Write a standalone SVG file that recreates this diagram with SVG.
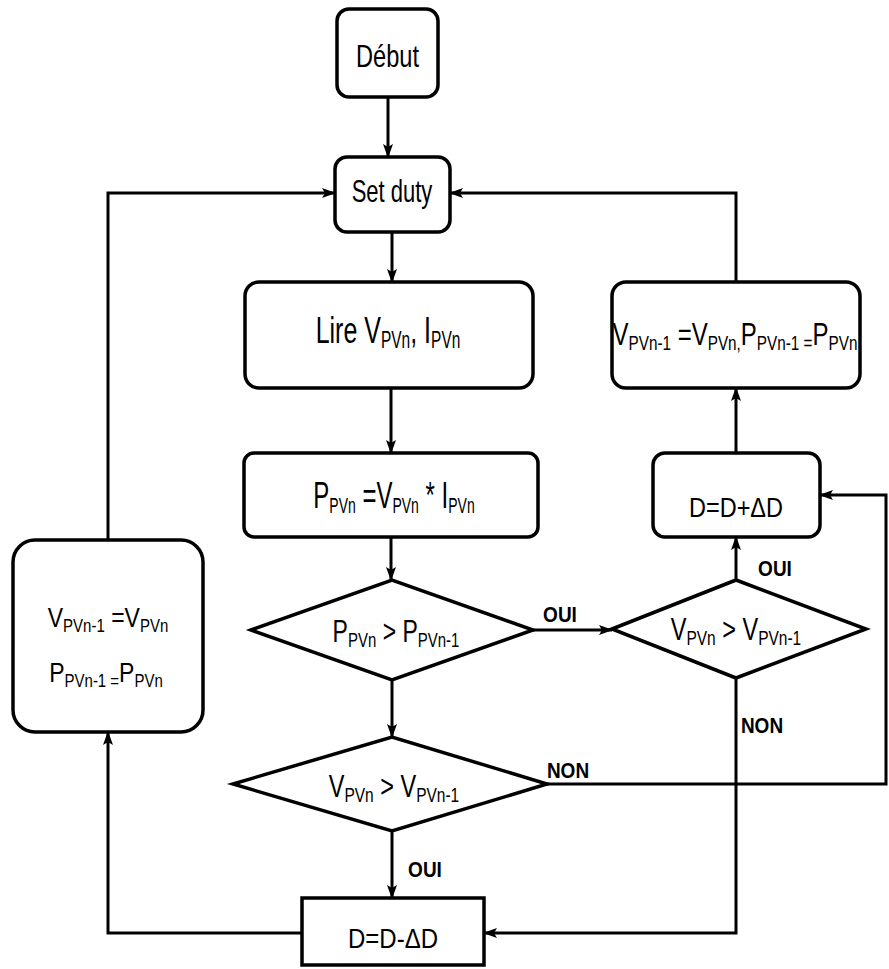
<svg xmlns="http://www.w3.org/2000/svg" width="889" height="969" viewBox="0 0 889 969">
<defs>
<style>
.box{fill:#fff;stroke:#000;stroke-width:3.5}
.ln{fill:none;stroke:#000;stroke-width:3}
.t{font-family:"Liberation Sans",Arial,sans-serif;fill:#000;text-anchor:middle}
.lbl{font-family:"Liberation Sans",Arial,sans-serif;font-weight:bold;font-size:19px;fill:#000;text-anchor:middle}
</style>
<marker id="ah" markerWidth="14" markerHeight="12" refX="13" refY="6" orient="auto" markerUnits="userSpaceOnUse">
<path d="M0,1 L14,6 L0,11 L3,6 Z" fill="#000"/>
</marker>
</defs>
<rect width="889" height="969" fill="#fff"/>

<g id="debut">
<rect class="box" x="337" y="9" width="101" height="88" rx="12"/>
<text class="t" style="font-size:23.6px" transform="translate(387.5,67) scale(1,1.3)">Début</text>
</g>
<g id="setduty">
<rect class="box" x="335" y="157" width="115" height="75" rx="12"/>
<text class="t" style="font-size:22px" transform="translate(392,202) scale(1,1.4)">Set duty</text>
</g>
<g id="lire">
<rect class="box" x="245" y="282" width="288" height="106" rx="14"/>
<text class="t" style="font-size:25px" transform="translate(388,343) scale(1,1.5)">Lire V<tspan style="font-size:15.5px" dy="3">PVn</tspan><tspan dy="-3">, I</tspan><tspan style="font-size:15.5px" dy="3">PVn</tspan></text>
</g>
<g id="power">
<rect class="box" x="244" y="453" width="294" height="84" rx="10"/>
<text class="t" style="font-size:24px" transform="translate(394,508) scale(1,1.55)">P<tspan style="font-size:14px" dy="3">PVn</tspan><tspan dy="-3"> =V</tspan><tspan style="font-size:14px" dy="3">PVn</tspan><tspan dy="-3"> * I</tspan><tspan style="font-size:14px" dy="3">PVn</tspan></text>
</g>
<g id="dec1">
<polygon class="box" points="251,630 392,580 533,630 392,680"/>
<text class="t" style="font-size:23px" transform="translate(396,642) scale(1,1.33)">P<tspan style="font-size:15px" dy="4">PVn</tspan><tspan dy="-4"> &gt; P</tspan><tspan style="font-size:15px" dy="4">PVn-1</tspan></text>
</g>
<g id="dec2">
<polygon class="box" points="233,784 392,737 547,784 392,831"/>
<text class="t" style="font-size:23.5px" transform="translate(394,797) scale(1,1.35)">V<tspan style="font-size:15.5px" dy="4">PVn</tspan><tspan dy="-4"> &gt; V</tspan><tspan style="font-size:15.5px" dy="4">PVn-1</tspan></text>
</g>
<g id="dec3">
<polygon class="box" points="612,629 736,580 866,629 736,678"/>
<text class="t" style="font-size:23.5px" transform="translate(736,640) scale(1,1.35)">V<tspan style="font-size:15.5px" dy="4">PVn</tspan><tspan dy="-4"> &gt; V</tspan><tspan style="font-size:15.5px" dy="4">PVn-1</tspan></text>
</g>
<g id="dplus">
<rect class="box" x="653" y="453" width="167" height="84" rx="12"/>
<text class="t" style="font-size:23.5px" transform="translate(736,517) scale(1,1.2)">D=D+ΔD</text>
</g>
<g id="update-right">
<rect class="box" x="612" y="282" width="248" height="106" rx="14"/>
<text class="t" style="font-size:24px" transform="translate(735,345) scale(1,1.34)">V<tspan style="font-size:15.3px" dy="4">PVn-1</tspan><tspan dy="-4"> =V</tspan><tspan style="font-size:15.3px" dy="4">PVn,</tspan><tspan dy="-4">P</tspan><tspan style="font-size:15.3px" dy="4">PVn-1 =</tspan><tspan dy="-4">P</tspan><tspan style="font-size:15.3px" dy="4">PVn</tspan></text>
</g>
<g id="update-left">
<rect class="box" x="13" y="540" width="190" height="192" rx="22"/>
<text class="t" style="font-size:23px" transform="translate(108,627) scale(1,1.22)">V<tspan style="font-size:15px" dy="4">PVn-1</tspan><tspan dy="-4"> =V</tspan><tspan style="font-size:15px" dy="4">PVn</tspan></text>
<text class="t" style="font-size:23px" transform="translate(106,682) scale(1,1.22)">P<tspan style="font-size:15px" dy="4">PVn-1 =</tspan><tspan dy="-4">P</tspan><tspan style="font-size:15px" dy="4">PVn</tspan></text>
</g>
<g id="dminus">
<rect class="box" x="302" y="898" width="182" height="67"/>
<text class="t" style="font-size:24px" transform="translate(393,948) scale(1,1.16)">D=D-ΔD</text>
</g>

<g id="connectors">
<path class="ln" marker-end="url(#ah)" d="M388,97 L388,157"/>
<path class="ln" marker-end="url(#ah)" d="M392,232 L392,282"/>
<path class="ln" marker-end="url(#ah)" d="M391,388 L391,453"/>
<path class="ln" marker-end="url(#ah)" d="M391,537 L391,580"/>
<path class="ln" marker-end="url(#ah)" d="M392,680 L392,737"/>
<path class="ln" marker-end="url(#ah)" d="M533,630 L612,630"/>
<path class="ln" marker-end="url(#ah)" d="M736,580 L736,537"/>
<path class="ln" marker-end="url(#ah)" d="M736,453 L736,388"/>
<path class="ln" marker-end="url(#ah)" d="M736,282 L736,193 L450,193"/>
<path class="ln" marker-end="url(#ah)" d="M547,784 L886,784 L886,495 L820,495"/>
<path class="ln" marker-end="url(#ah)" d="M736,678 L736,933 L484,933"/>
<path class="ln" marker-end="url(#ah)" d="M392,831 L392,898"/>
<path class="ln" marker-end="url(#ah)" d="M302,933 L108,933 L108,732"/>
<path class="ln" marker-end="url(#ah)" d="M108,540 L108,193 L335,193"/>
<text class="lbl" transform="translate(560,622) scale(1,1.2)">OUI</text>
<text class="lbl" transform="translate(568,778) scale(1,1.2)">NON</text>
<text class="lbl" transform="translate(775,576) scale(1,1.2)">OUI</text>
<text class="lbl" transform="translate(762,733) scale(1,1.2)">NON</text>
<text class="lbl" transform="translate(425,877) scale(1,1.2)">OUI</text>
</g>
</svg>
